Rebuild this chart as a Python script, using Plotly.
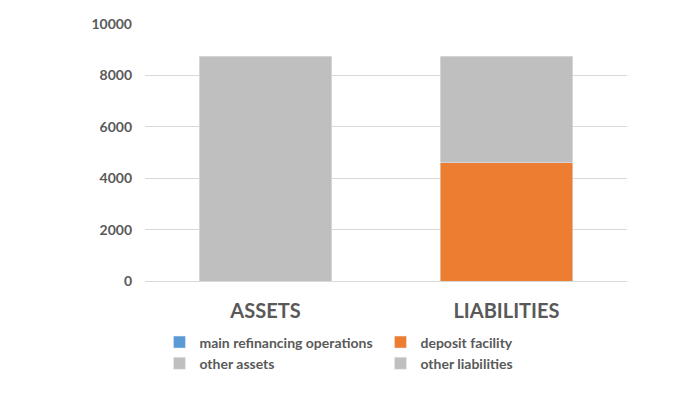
import plotly.graph_objects as go

categories = ["ASSETS", "LIABILITIES"]
main_refinancing = [0, None]
deposit_facility = [None, 4600]
other_assets = [8750, None]
other_liabilities = [None, 4150]
y_ticks = [0, 2000, 4000, 6000, 8000, 10000]
y_tick_labels = ["0", "2000", "4000", "6000", "8000", "10000"]

FONT = "Lato"
TXT = "#595959"

fig = go.Figure()
fig.add_trace(go.Bar(name="main refinancing operations", x=categories, y=main_refinancing,
                     marker=dict(color="#5B9BD5")))
fig.add_trace(go.Bar(name="deposit facility", x=categories, y=deposit_facility,
                     marker=dict(color="#ED7D31")))
fig.add_trace(go.Bar(name="other assets", x=categories, y=other_assets,
                     marker=dict(color="#BFBFBF")))
fig.add_trace(go.Bar(name="other liabilities", x=categories, y=other_liabilities,
                     marker=dict(color="#BFBFBF")))

fig.update_layout(
    width=700, height=393,
    barmode="stack", bargap=0.45,
    paper_bgcolor="white", plot_bgcolor="white",
    margin=dict(l=137, r=81, t=16, b=120, autoexpand=False),
    font=dict(family=FONT, color=TXT),
    showlegend=True,
    legend=dict(orientation="h", x=0.03, xanchor="left", y=-0.177, yanchor="top",
                entrywidth=176, entrywidthmode="pixels",
                font=dict(family=FONT, size=14, color=TXT, weight="bold"),
                itemwidth=30, traceorder="normal"),
)
fig.update_xaxes(showgrid=False, showline=False, ticks="",
                 tickfont=dict(family=FONT, size=20, color=TXT, weight="bold"),
                 ticklabelstandoff=16, automargin=False)
fig.update_yaxes(range=[0, 10000], tickvals=y_ticks, ticktext=y_tick_labels,
                 showgrid=True, gridcolor="#D9D9D9", gridwidth=1,
                 zeroline=True, zerolinecolor="#D9D9D9", zerolinewidth=1,
                 showline=False, ticks="",
                 tickfont=dict(family=FONT, size=14, color=TXT, weight="bold"),
                 ticklabelstandoff=12, automargin=False)

fig.write_html("out.html")
